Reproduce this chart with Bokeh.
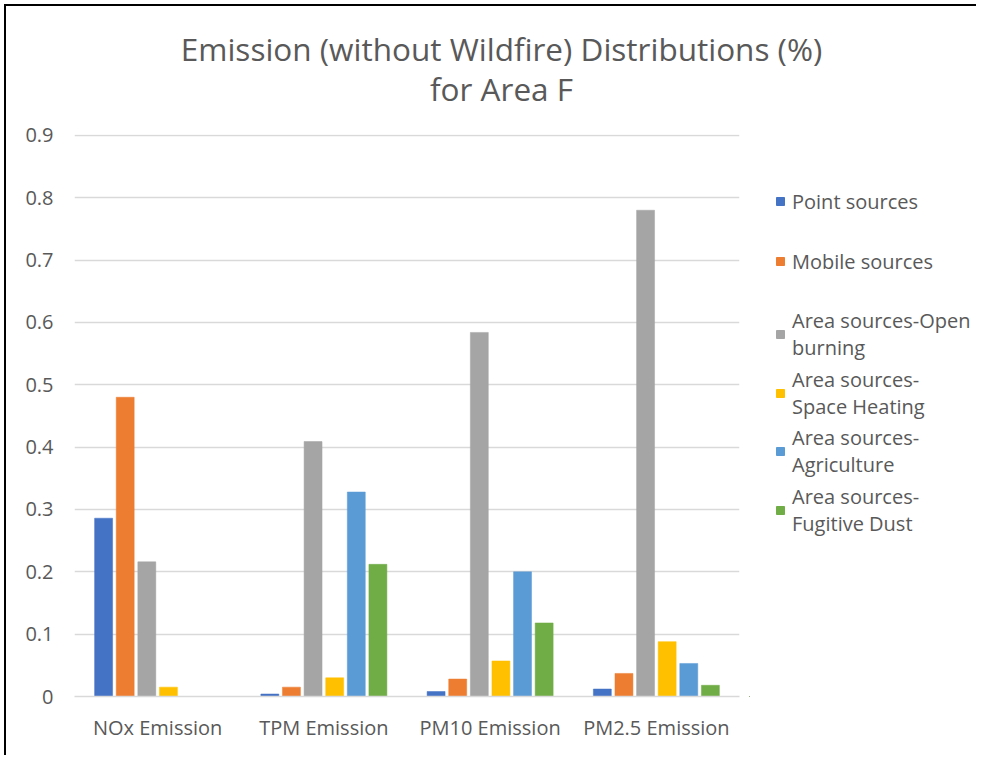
from bokeh.plotting import figure
from bokeh.layouts import column, row
from bokeh.models import FactorRange, Legend, LegendItem, Label, InlineStyleSheet, ColumnDataSource
from bokeh.transform import dodge
from bokeh.embed import file_html
from bokeh.resources import INLINE

categories = ["NOx Emission", "TPM Emission", "PM10 Emission", "PM2.5 Emission"]
series_names = [
    "Point sources",
    "Mobile sources",
    "Area sources-Open\nburning",
    "Area sources-\nSpace Heating",
    "Area sources-\nAgriculture",
    "Area sources-\nFugitive Dust",
]
point_sources = [0.286, 0.004, 0.008, 0.012]
mobile_sources = [0.480, 0.015, 0.028, 0.037]
open_burning = [0.216, 0.409, 0.584, 0.780]
space_heating = [0.015, 0.030, 0.057, 0.088]
agriculture = [0.000, 0.328, 0.200, 0.053]
fugitive_dust = [0.000, 0.212, 0.118, 0.018]
y_ticks = [0, 0.1, 0.2, 0.3, 0.4, 0.5, 0.6, 0.7, 0.8, 0.9]
colors = ["#4472C4", "#ED7D31", "#A5A5A5", "#FFC000", "#5B9BD5", "#70AD47"]
title_lines = ["Emission (without Wildfire) Distributions (%)", "for Area F"]

series_values = [point_sources, mobile_sources, open_burning, space_heating, agriculture, fugitive_dust]
keys = ["s0", "s1", "s2", "s3", "s4", "s5"]
data = {"cat": categories}
for k, v in zip(keys, series_values):
    data[k] = v
source = ColumnDataSource(data)

FONT = "Open Sans"
TXT = "#595959"
LBL = "20px"

# ---- title strip ----
TW, TH = 970, 113
pt = figure(width=TW, height=TH, x_range=(0, 1), y_range=(0, 1),
            output_backend="svg", toolbar_location=None,
            x_axis_location=None, y_axis_location=None,
            min_border_left=0, min_border_right=0, min_border_top=0, min_border_bottom=0)
pt.grid.visible = False
pt.outline_line_color = None
pt.add_layout(Label(x=495, y=71, x_units="screen", y_units="screen", text=title_lines[0],
                    text_align="center", text_baseline="alphabetic",
                    text_font=FONT, text_font_size="31.5px", text_color=TXT))
pt.add_layout(Label(x=495, y=31, x_units="screen", y_units="screen", text=title_lines[1],
                    text_align="center", text_baseline="alphabetic",
                    text_font=FONT, text_font_size="31.5px", text_color=TXT))

# ---- main chart ----
MW, MH = 743, 636
p = figure(
    width=MW, height=MH,
    x_range=FactorRange(*categories, range_padding=0),
    y_range=(0, 0.9015),
    output_backend="svg", toolbar_location=None,
    min_border_left=68, min_border_right=10, min_border_top=15, min_border_bottom=59,
)
p.outline_line_color = None

step = 0.13
bw = 0.108
for i, (k, c) in enumerate(zip(keys, colors)):
    off = (i - 2.5) * step
    p.vbar(x=dodge("cat", off, range=p.x_range), top=k, width=bw, source=source,
           fill_color=c, line_color=c, line_width=0.5)

p.yaxis.ticker = y_ticks
p.yaxis.major_label_overrides = {0: "0"}
p.xgrid.grid_line_color = None
p.ygrid.grid_line_color = "#D9D9D9"
p.ygrid.grid_line_width = 1.5
for ax in (p.xaxis[0], p.yaxis[0]):
    ax.major_tick_line_color = None
    ax.minor_tick_line_color = None
    ax.major_label_text_font = FONT
    ax.major_label_text_font_size = LBL
    ax.major_label_text_color = TXT
p.yaxis.axis_line_color = None
p.xaxis.axis_line_color = "#D9D9D9"
p.xaxis.axis_line_width = 1.5
p.yaxis.major_label_standoff = 15
p.xaxis.major_label_standoff = 11

# ---- legend panel ----
LW = TW - MW
pl = figure(width=LW, height=MH, x_range=(0, 1), y_range=(0, 1),
            output_backend="svg", toolbar_location=None,
            x_axis_location=None, y_axis_location=None,
            min_border_left=0, min_border_right=0, min_border_top=0, min_border_bottom=0)
pl.grid.visible = False
pl.outline_line_color = None
# swatch-only renderers (kept well outside the visible range) for the legend entries
swatch = ColumnDataSource(data=dict(x=[-50], top=[-50], bottom=[-60]))
legend_y = [480, 420, 335, 276, 218, 159]
for name, c, ly in zip(series_names, colors, legend_y):
    r = pl.vbar(x="x", top="top", bottom="bottom", width=0.1, source=swatch,
                fill_color=c, line_color=c)
    two = "\n" in name
    lg = Legend(items=[LegendItem(label=name, renderers=[r])], location=(26, ly),
                glyph_width=10, glyph_height=10, label_standoff=7,
                label_height=54 if two else 30,
                label_text_font=FONT, label_text_font_size=LBL, label_text_color=TXT,
                label_text_line_height=1.3,
                border_line_color=None, background_fill_alpha=0, padding=0, margin=0)
    pl.add_layout(lg, "center")

layout = column(pt, row(p, pl))
layout.stylesheets = [InlineStyleSheet(css=":host { margin-left: 4px; margin-top: 4px; border-left: 2px solid #000; border-top: 2px solid #000; }")]

open("out.html", "w").write(file_html(layout, INLINE))
